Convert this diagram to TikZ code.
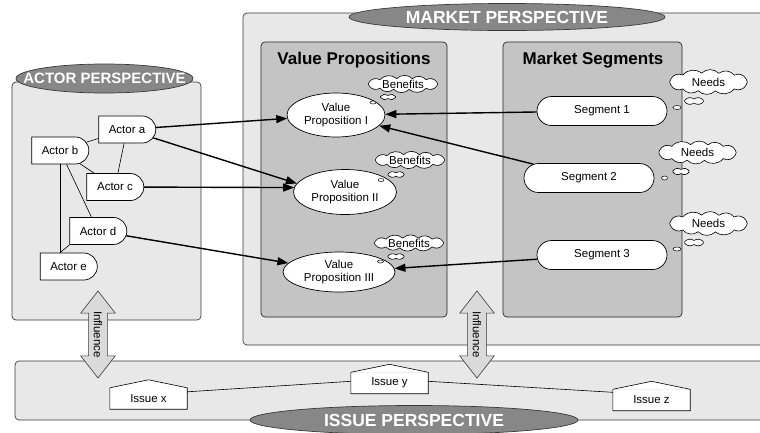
\documentclass[tikz,border=0pt]{standalone}
\usepackage{fontspec}
\setmainfont{Liberation Sans}
\usetikzlibrary{shapes.geometric,shapes.misc,shapes.arrows,arrows.meta}
\definecolor{panelfill}{HTML}{E8E8E8}
\definecolor{groupfill}{HTML}{C4C4C4}
\definecolor{tagfill}{HTML}{878787}
\definecolor{influencefill}{HTML}{DADADA}
\definecolor{edge}{HTML}{3A3A3A}
\newcommand{\txt}{\fontsize{11.5}{13}\selectfont}
% a puffy cloud: #1 centre name, #2 x, #3 y, #4 x radius, #5 y radius,
% #6 first puff boundary angle, #7 remaining boundary angles (ending back at #6)
\newcommand{\cloudat}[7]{%
  \coordinate (#1) at (#2,#3);
  \edef\cloudfirst{#6}%
  \edef\cloudlist{#7}%
  \filldraw[cloudline] ([shift={(\cloudfirst:#4pt and #5pt)}]#1)
    \foreach \a in \cloudlist { to[bend right=45] ([shift={(\a:#4pt and #5pt)}]#1) };
}
\newcommand{\bigrest}{50,75,100,130,160,200,230,255,280,310,340,380}
\newcommand{\smallrest}{90,160,200,270,340,380}

\begin{document}
\begin{tikzpicture}[x=1pt,y=-1pt,
  panel/.style={draw=edge, fill=panelfill, line width=0.7pt, rounded corners=4pt},
  group/.style={draw=black!85, fill=groupfill, line width=0.7pt, rounded corners=4pt},
  grouptitle/.style={font=\bfseries\fontsize{17}{17}\selectfont, anchor=base, inner sep=0pt},
  tag/.style={ellipse, draw=edge, fill=tagfill, line width=0.7pt, inner sep=0pt,
    text=white, font=\bfseries\fontsize{#1}{#1}\selectfont},
  actor/.style={rounded rectangle, rounded rectangle left arc=none, draw=black, fill=white,
    line width=0.7pt, minimum width=57pt, minimum height=27pt, inner sep=0pt, font=\txt},
  segment/.style={rounded rectangle, draw=black, fill=white, line width=0.7pt,
    minimum width=130pt, minimum height=29pt, inner sep=0pt, font=\txt},
  proposition/.style={ellipse, draw=black, fill=white, line width=0.7pt, inner sep=0pt,
    align=center, font=\txt},
  cloudline/.style={draw=black, fill=white, line width=0.6pt, line join=round},
  thoughttext/.style={inner sep=0pt, font=\txt},
  droplet/.style={ellipse, draw=black, fill=white, line width=0.5pt, inner sep=0pt,
    minimum width=6pt, minimum height=3pt},
  issue/.style={fill=white, minimum width=77pt, minimum height=21pt, inner sep=0pt, font=\txt},
  roof/.style={draw=black, line width=0.6pt},
  tie/.style={line width=0.6pt},
  flow/.style={line width=1.4pt, -{Triangle[length=11pt,width=8pt]}},
  influence/.style={double arrow, draw=edge, fill=influencefill, line width=0.6pt, rotate=-90,
    minimum height=87pt, double arrow head extend=8pt, double arrow tip angle=76,
    inner xsep=0pt, inner ysep=4.8pt, font=\txt}
]
\useasboundingbox (0,0) rectangle (760,432);

% perspective panels
\draw[panel] (12,82) rectangle (201,320);
\draw[panel] (243,13) rectangle (775,345);
\draw[panel] (15,361) rectangle (775,420);

% groups inside the market perspective
\draw[group] (261,42) rectangle (447,317);
\draw[group] (503,42) rectangle (682,317);
\node[grouptitle] (vptitle) at (354,64) {Value Propositions};
\node[grouptitle] (mstitle) at (593,64) {Market Segments};

% perspective tags
\node[tag=15, minimum width=177pt, minimum height=29pt] (actortag) at (104.5,78.5)
  {\makebox[0pt]{ACTOR PERSPECTIVE}};
\node[tag=17.5, minimum width=316pt, minimum height=27pt] (markettag) at (507,17)
  {\makebox[0pt]{MARKET PERSPECTIVE}};
\node[tag=17.5, minimum width=328pt, minimum height=29pt] (issuetag) at (414,420)
  {\makebox[0pt]{ISSUE PERSPECTIVE}};

% actors
\node[actor] (actA) at (127,129.5) {Actor a};
\node[actor] (actB) at (60,150.5) {Actor b};
\node[actor] (actC) at (115,187) {Actor c};
\node[actor] (actD) at (98,231) {Actor d};
\node[actor] (actE) at (68.5,266.5) {Actor e};

\draw[tie] (actA) -- (actB);
\draw[tie] (actA) -- (actC);
\draw[tie] (actB) -- (actC);
\draw[tie] (actB) -- (actD);
\draw[tie] (actB.south) -- (actB.south |- actE.north);
\draw[tie] (actD.west |- actD.south) -- (actB.south |- actE.north);

% value propositions
\node[proposition, minimum width=98pt, minimum height=44pt] (vp1) at (336,115) {Value\\Proposition I};
\node[proposition, minimum width=103pt, minimum height=45pt] (vp2) at (345,192) {Value\\Proposition II};
\node[proposition, minimum width=112pt, minimum height=40pt] (vp3) at (339,272) {Value\\Proposition III};

% market segments
\node[segment] (seg1) at (602,111) {Segment 1};
\node[segment] (seg2) at (589,178) {Segment 2};
\node[segment] (seg3) at (602,255) {Segment 3};

% benefits thoughts
\cloudat{ben1c}{403}{84}{36}{5.5}{20}{\bigrest}
\node[thoughttext] (ben1) at (ben1c) {Benefits};
\cloudat{ben1m}{388}{97}{8}{1.6}{20}{\smallrest}
\node[droplet] (ben1t) at (373,102.5) {};
\cloudat{ben2c}{410}{160}{36}{5.5}{20}{\bigrest}
\node[thoughttext] (ben2) at (ben2c) {Benefits};
\cloudat{ben2m}{396}{174.5}{8.5}{1.6}{20}{\smallrest}
\node[droplet] (ben2t) at (381,180) {};
\cloudat{ben3c}{409}{243}{36}{5}{20}{\bigrest}
\node[thoughttext] (ben3) at (ben3c) {Benefits};
\cloudat{ben3m}{396}{256.5}{8.5}{1.6}{20}{\smallrest}
\node[droplet] (ben3t) at (380.5,261.5) {};

% needs thoughts
\cloudat{need1c}{708.5}{82}{40}{9}{20}{\bigrest}
\node[thoughttext] (need1) at (need1c) {Needs};
\cloudat{need1m}{694}{101}{10}{2}{20}{\smallrest}
\node[droplet, minimum width=8pt, minimum height=4pt] (need1t) at (677,107.5) {};
\cloudat{need2c}{697.5}{152.5}{40}{8}{20}{\bigrest}
\node[thoughttext] (need2) at (need2c) {Needs};
\cloudat{need2m}{681}{171.5}{8.5}{2}{20}{\smallrest}
\node[droplet, minimum width=6pt, minimum height=4pt] (need2t) at (664.5,178) {};
\cloudat{need3c}{708.5}{223.5}{40}{8.5}{20}{\bigrest}
\node[thoughttext] (need3) at (need3c) {Needs};
\cloudat{need3m}{694}{242.5}{10}{2}{20}{\smallrest}
\node[droplet, minimum width=8pt, minimum height=4pt] (need3t) at (677,249) {};

% flows towards the value propositions
\draw[flow] (actA) -- (vp1);
\draw[flow] (actA) -- (vp2.170);
\draw[flow] (actC) -- (vp2.175);
\draw[flow] (actD) -- (vp3.170);
\draw[flow] (seg1) -- (vp1);
\draw[flow] (seg2) -- (vp1);
\draw[flow] (seg3) -- (vp3);

% issues
\node[issue] (issX) at (148.5,398.5) {Issue x};
\node[issue] (issY) at (389.5,383) {Issue y};
\node[issue] (issZ) at (651.5,400) {Issue z};
\foreach \n in {issX,issY,issZ}{
  \fill[white] (\n.north west) -- ([yshift=8pt]\n.north) -- (\n.north east) -- cycle;
  \draw[roof] (\n.south west) -- (\n.north west) -- ([yshift=8pt]\n.north)
    -- (\n.north east) -- (\n.south east) -- cycle;
}
\draw[tie] ([yshift=-4pt]issX.north east) -- ([yshift=-9pt]issY.north west);
\draw[tie] ([yshift=-9pt]issY.north east) -- ([yshift=-3pt]issZ.north west);

% influence between perspectives
\node[influence] (inflA) at (98,334.5) {\makebox[30pt]{Influence}};
\node[influence] (inflM) at (477,334.5) {\makebox[30pt]{Influence}};
\end{tikzpicture}
\end{document}
